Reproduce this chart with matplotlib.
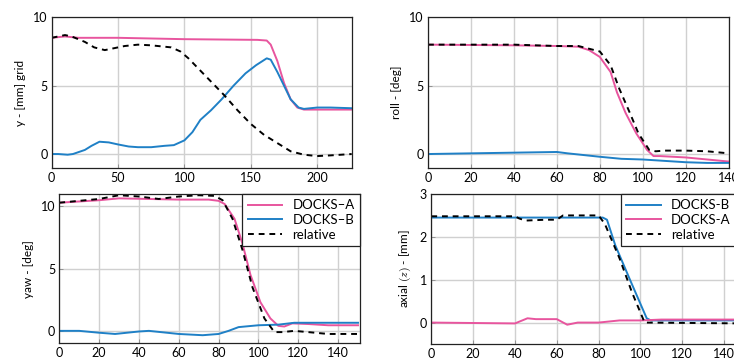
import matplotlib
matplotlib.use('Agg')
import matplotlib.pyplot as plt

PINK = '#e8559e'
BLUE = '#1f80c6'

# y position (top left)
y_a_x = [0, 10, 20, 50, 100, 155, 162, 165, 170, 175, 180, 185, 190, 200, 226]
y_a = [8.5, 8.6, 8.5, 8.5, 8.4, 8.35, 8.3, 8.0, 6.8, 5.2, 4.0, 3.4, 3.25, 3.25, 3.25]
y_b_x = [0, 5, 12, 16, 25, 30, 36, 43, 50, 58, 65, 75, 85, 92, 100, 106, 112, 120,
         128, 137, 146, 154, 162, 165, 170, 175, 180, 186, 190, 200, 210, 226]
y_b = [0, 0, -0.05, 0.0, 0.3, 0.6, 0.9, 0.85, 0.7, 0.55, 0.5, 0.5, 0.6, 0.65, 1.0, 1.6,
       2.5, 3.2, 4.0, 5.0, 5.9, 6.5, 7.0, 6.9, 6.0, 5.0, 4.0, 3.4, 3.3, 3.4, 3.4, 3.35]
y_r_x = [0, 10, 15, 25, 32, 40, 45, 55, 65, 75, 90, 97, 103, 110, 120, 130, 140, 150,
         160, 170, 180, 190, 200, 210, 226]
y_r = [8.5, 8.7, 8.6, 8.2, 7.8, 7.6, 7.7, 7.9, 8.0, 7.95, 7.8, 7.5, 7.0, 6.3, 5.3, 4.3,
       3.2, 2.2, 1.4, 0.8, 0.2, -0.05, -0.15, -0.1, 0.0]

# roll (top right)
roll_a_x = [0, 40, 60, 70, 75, 80, 85, 88, 92, 97, 102, 105, 108, 120, 130, 140]
roll_a = [8.0, 7.95, 7.9, 7.85, 7.6, 7.1, 6.0, 4.5, 3.0, 1.5, 0.3, -0.15, -0.15, -0.25, -0.4, -0.55]
roll_b_x = [0, 20, 40, 60, 65, 80, 90, 100, 110, 120, 130, 140]
roll_b = [0, 0.05, 0.1, 0.15, 0.05, -0.2, -0.35, -0.4, -0.5, -0.6, -0.65, -0.65]
roll_r_x = [0, 40, 60, 70, 80, 85, 89, 94, 98, 103, 106, 110, 120, 130, 140]
roll_r = [8.0, 8.0, 7.9, 7.9, 7.5, 6.5, 4.8, 3.0, 1.5, 0.3, 0.2, 0.25, 0.25, 0.2, 0.05]

# yaw (bottom left)
yaw_a_x = [0, 20, 30, 45, 60, 75, 80, 83, 88, 92, 96, 101, 106, 110, 113, 117, 125, 135, 150]
yaw_a = [10.3, 10.5, 10.65, 10.6, 10.55, 10.55, 10.45, 10.2, 9.0, 7.0, 4.5, 2.3, 1.0, 0.4,
         0.35, 0.6, 0.55, 0.45, 0.45]
yaw_b_x = [0, 10, 20, 28, 40, 45, 60, 72, 80, 85, 90, 100, 110, 118, 130, 150]
yaw_b = [0, 0, -0.15, -0.25, -0.05, 0.0, -0.25, -0.35, -0.25, 0.0, 0.3, 0.45, 0.5, 0.65, 0.65, 0.65]
yaw_r_x = [0, 20, 30, 40, 50, 60, 70, 78, 82, 87, 92, 97, 103, 108, 112, 118, 125, 135, 150]
yaw_r = [10.3, 10.6, 10.9, 10.8, 10.6, 10.8, 10.9, 10.85, 10.5, 9.0, 6.5, 3.5, 1.0, -0.1,
         -0.1, 0.0, -0.1, -0.25, -0.25]

# axial (bottom right)
ax_b_x = [0, 40, 82, 84, 88, 95, 103, 105, 150]
ax_b = [2.45, 2.45, 2.45, 2.4, 1.8, 1.0, 0.1, 0.05, 0.05]
ax_a_x = [0, 40, 46, 50, 60, 65, 70, 80, 90, 100, 110, 150]
ax_a = [0.0, -0.02, 0.1, 0.08, 0.08, -0.05, 0.0, 0.0, 0.05, 0.05, 0.07, 0.07]
ax_r_x = [0, 40, 42, 45, 55, 60, 63, 80, 83, 90, 96, 102, 150]
ax_r = [2.48, 2.48, 2.43, 2.38, 2.4, 2.4, 2.5, 2.5, 2.3, 1.5, 0.7, 0.0, -0.02]

plt.rcParams['font.family'] = ['Lato', 'DejaVu Sans']
plt.rcParams['mathtext.fontset'] = 'cm'

fig = plt.figure(figsize=(7.34, 3.6), dpi=100)
W, H = 734.0, 360.0


def make_axes(left, right, top, bottom):
    return fig.add_axes([left / W, 1 - bottom / H, (right - left) / W, (bottom - top) / H])


def style(ax, xlim, ylim, xticks, yticks, ylabel):
    ax.set_xlim(*xlim)
    ax.set_ylim(*ylim)
    ax.set_xticks(xticks)
    ax.set_yticks(yticks)
    ax.grid(True, color='#d0d0d0', lw=1.0)
    ax.set_axisbelow(True)
    ax.tick_params(direction='in', length=3, width=0.6, color='#888888',
                   labelsize=9, pad=3)
    for s in ax.spines.values():
        s.set_color('#222222')
        s.set_linewidth(0.9)
    ax.set_ylabel(ylabel, fontsize=8.5, labelpad=5)


lw = 1.4
dash = (0, (3, 2.5))

ax1 = make_axes(51.7, 351.7, 17.3, 167.7)
ax1.plot(y_a_x, y_a, color=PINK, lw=lw)
ax1.plot(y_b_x, y_b, color=BLUE, lw=lw)
ax1.plot(y_r_x, y_r, color='black', lw=lw, ls=dash)
style(ax1, (0, 226), (-1, 10), [0, 50, 100, 150, 200], [0, 5, 10], 'y - [mm] grid')

ax2 = make_axes(428, 728.7, 17.3, 167.7)
ax2.plot(roll_a_x, roll_a, color=PINK, lw=lw)
ax2.plot(roll_b_x, roll_b, color=BLUE, lw=lw)
ax2.plot(roll_r_x, roll_r, color='black', lw=lw, ls=dash)
style(ax2, (0, 140), (-1, 10), range(0, 141, 20), [0, 5, 10], 'roll - [deg]')

ax3 = make_axes(59.3, 360, 194, 343.3)
ax3.plot(yaw_a_x, yaw_a, color=PINK, lw=lw, label='DOCKS\u2013A')
ax3.plot(yaw_b_x, yaw_b, color=BLUE, lw=lw, label='DOCKS\u2013B')
ax3.plot(yaw_r_x, yaw_r, color='black', lw=lw, ls=dash, label='relative')
style(ax3, (0, 151), (-1, 11), range(0, 141, 20), [0, 5, 10], 'yaw - [deg]')

ax4 = make_axes(431.3, 736, 194, 344)
ax4.plot(ax_b_x, ax_b, color=BLUE, lw=lw, label='DOCKS-B')
ax4.plot(ax_a_x, ax_a, color=PINK, lw=lw, label='DOCKS-A')
ax4.plot(ax_r_x, ax_r, color='black', lw=lw, ls=dash, label='relative')
style(ax4, (0, 145.7), (-0.5, 3), range(0, 141, 20), [0, 1, 2, 3], 'axial $(z)$ - [mm]')

for ax in (ax3, ax4):
    leg = ax.legend(loc='upper right', fontsize=9.5, borderaxespad=0, fancybox=False,
                    framealpha=1, edgecolor='#222222', handlelength=2.6,
                    borderpad=0.4, labelspacing=0.2, handletextpad=0.8)
    leg.get_frame().set_linewidth(0.9)

fig.savefig('out.png', dpi=100)
